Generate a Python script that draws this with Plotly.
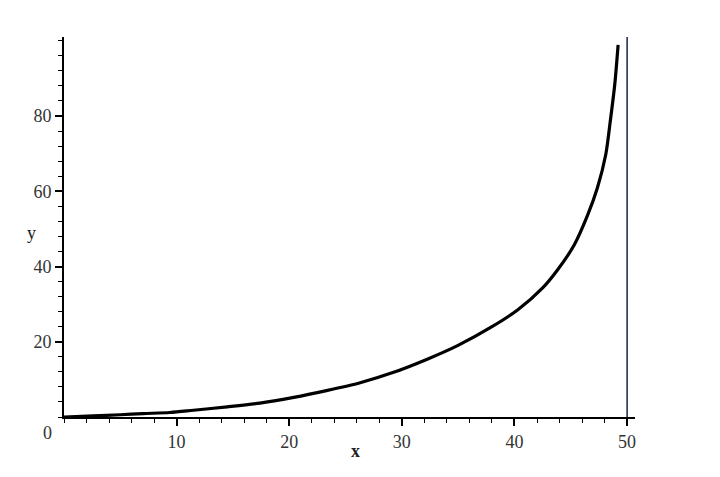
import plotly.graph_objects as go

# values
x_vals = [0, 2.6, 5, 7, 9.4, 11.5, 14.5, 17.4, 20.4, 23.3, 26.3, 29.2, 32.2, 34.9,
          38.0, 40.3, 42.5, 43.8, 45.3, 46.5, 47.35, 48.1, 48.5, 48.9, 49.2]
y_vals = [0, 0.3, 0.6, 0.9, 1.2, 1.8, 2.7, 3.7, 5.2, 7.0, 9.1, 11.8, 15.3, 18.9,
          24.0, 28.5, 34.3, 39.0, 45.7, 53.7, 60.8, 69.7, 78.5, 88.3, 98.9]
asymptote_x = 50
x_ticks = [10, 20, 30, 40, 50]
y_ticks = [20, 40, 60, 80]
x_range = [0, 50.7]
y_range = [0, 101]

font_family = "Liberation Serif"
label_color = "#333333"

fig = go.Figure()
fig.add_trace(go.Scatter(x=x_vals, y=y_vals, mode="lines",
                         line=dict(color="black", width=3.2, shape="spline", smoothing=0.8),
                         showlegend=False, hoverinfo="skip"))
fig.add_shape(type="line", x0=asymptote_x, x1=asymptote_x, y0=0, y1=y_range[1],
              xref="x", yref="y", line=dict(color="#1c2240", width=1.5))

fig.update_layout(
    width=720, height=477,
    margin=dict(l=56, r=93, t=29, b=68),
    paper_bgcolor="white", plot_bgcolor="white",
    font=dict(family=font_family, size=18, color=label_color),
    xaxis=dict(range=x_range, tickvals=x_ticks, ticks="outside", ticklen=7, tickwidth=1.5,
               tickcolor="black", showline=True, linecolor="black", linewidth=2,
               showgrid=False, zeroline=False,
               minor=dict(dtick=2, tick0=0, ticks="outside", ticklen=4, tickcolor="black",
                          tickwidth=1.2, showgrid=False)),
    yaxis=dict(range=y_range, tickvals=y_ticks, ticks="outside", ticklen=7, tickwidth=1.5,
               tickcolor="black", showline=True, linecolor="black", linewidth=2,
               showgrid=False, zeroline=False,
               minor=dict(dtick=4, tick0=0, ticks="outside", ticklen=4, tickcolor="black",
                          tickwidth=1.2, showgrid=False)),
    annotations=[
        dict(text="0", x=0, y=0, xref="x", yref="y", xanchor="right", yanchor="top",
             xshift=-10, yshift=-4, showarrow=False,
             font=dict(family=font_family, size=18, color=label_color)),
        dict(text="<b>x</b>", x=25.9, y=0, xref="x", yref="y", yanchor="top",
             yshift=-22, showarrow=False,
             font=dict(family=font_family, size=18, color="#222222")),
        dict(text="y", x=0, y=49, xref="x", yref="y", xanchor="right",
             xshift=-26, showarrow=False,
             font=dict(family=font_family, size=18, color="#222222")),
    ],
)

fig.write_html("out.html")
